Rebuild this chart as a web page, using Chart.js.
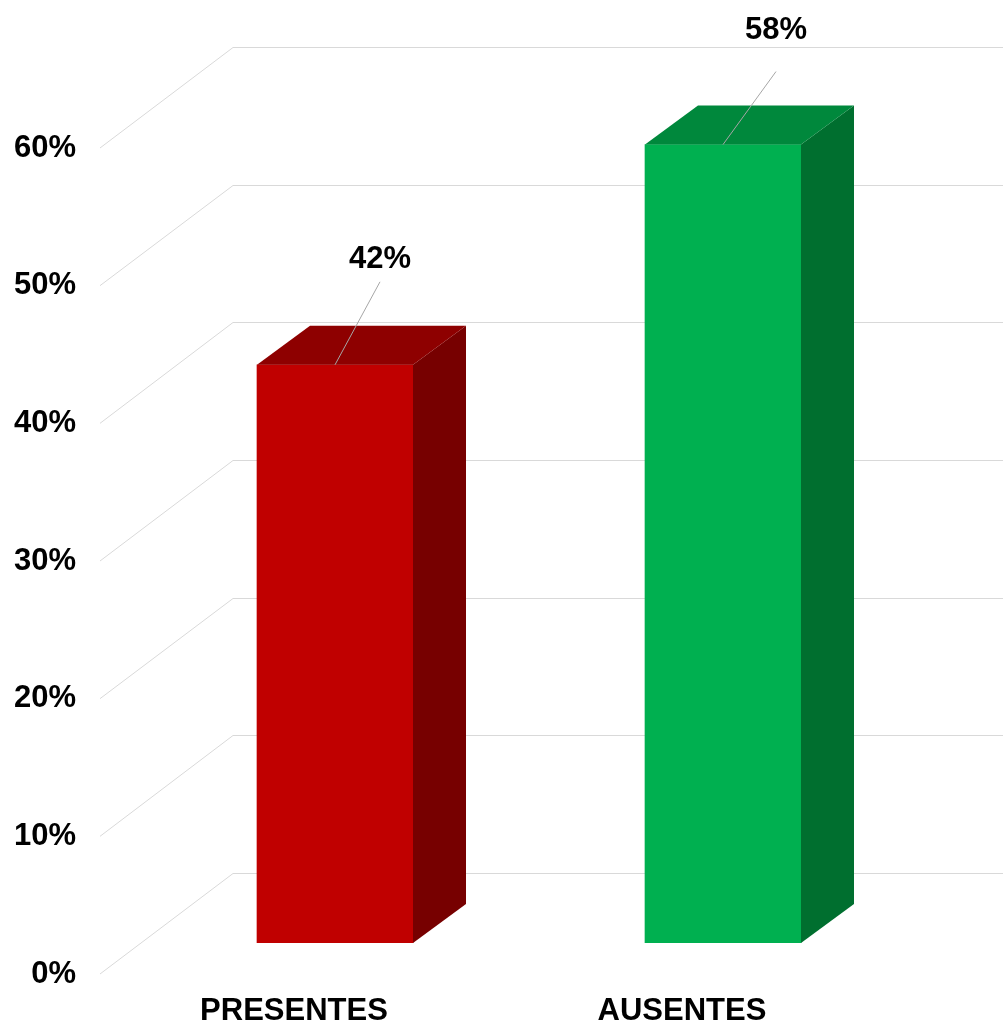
<!DOCTYPE html>
<html>
<head>
<meta charset="utf-8">
<script src="https://cdn.jsdelivr.net/npm/chart.js@4.4.0/dist/chart.umd.min.js"></script>
<style>
  html, body { margin: 0; padding: 0; background: #fff; }
  #wrap { width: 1003px; height: 1023px; }
</style>
</head>
<body>
<div id="wrap"><canvas id="chart" width="1003" height="1023"></canvas></div>
<script>
// data
const categories = ['PRESENTES', 'AUSENTES'];
const values = [0.42, 0.58];
const valueLabels = ['42%', '58%'];
const tickValues = [0, 0.1, 0.2, 0.3, 0.4, 0.5, 0.6];

const frontColours = ['#C00000', '#00B050'];
const topColours = ['#8E0000', '#00883C'];
const sideColours = ['#770000', '#006F2F'];

const FONT = "'Liberation Sans', Arial, sans-serif";

// depth of the 3D look, relative to the bar front plane
const DEPTH = { barDx: 53, barDy: -39, backDx: 92, backDy: -70, frontDx: -41, frontDy: 31 };

// back wall grid and the diagonal floor lines
const wallPlugin = {
  id: 'wall',
  beforeDatasetsDraw(chart) {
    const { ctx, chartArea, scales } = chart;
    ctx.save();
    ctx.strokeStyle = '#d9d9d9';
    ctx.lineWidth = 1;
    tickValues.forEach((v) => {
      const y = scales.y.getPixelForValue(v);
      const bx = chartArea.left + DEPTH.backDx;
      const by = Math.round(y + DEPTH.backDy) + 0.5;
      ctx.beginPath();
      ctx.moveTo(chartArea.left + DEPTH.frontDx, y + DEPTH.frontDy);
      ctx.lineTo(bx, by);
      ctx.lineTo(chart.width, by);
      ctx.stroke();
    });
    ctx.restore();
  },
};

// top and side faces of each bar, then the value labels with leader lines
const boxPlugin = {
  id: 'box3d',
  afterDatasetsDraw(chart, args, opts) {
    const { ctx } = chart;
    const meta = chart.getDatasetMeta(0);
    ctx.save();
    meta.data.forEach((bar, i) => {
      const half = bar.width / 2;
      const l = bar.x - half;
      const r = bar.x + half;
      const t = bar.y;
      const b = bar.base;
      const dx = DEPTH.barDx;
      const dy = DEPTH.barDy;
      ctx.fillStyle = sideColours[i];
      ctx.beginPath();
      ctx.moveTo(r, t);
      ctx.lineTo(r + dx, t + dy);
      ctx.lineTo(r + dx, b + dy);
      ctx.lineTo(r, b);
      ctx.closePath();
      ctx.fill();
      ctx.fillStyle = topColours[i];
      ctx.beginPath();
      ctx.moveTo(l, t);
      ctx.lineTo(l + dx, t + dy);
      ctx.lineTo(r + dx, t + dy);
      ctx.lineTo(r, t);
      ctx.closePath();
      ctx.fill();
    });
    meta.data.forEach((bar, i) => {
      const o = opts.offsets[i];
      ctx.strokeStyle = '#a6a6a6';
      ctx.lineWidth = 1;
      ctx.beginPath();
      ctx.moveTo(bar.x, bar.y);
      ctx.lineTo(bar.x + o.lineDx, bar.y + o.lineDy);
      ctx.stroke();
      ctx.fillStyle = '#000';
      ctx.font = 'bold 31px ' + FONT;
      ctx.textAlign = 'center';
      ctx.textBaseline = 'middle';
      ctx.fillText(valueLabels[i], bar.x + o.textDx, bar.y + o.textDy);
    });
    ctx.restore();
  },
};

new Chart(document.getElementById('chart'), {
  type: 'bar',
  data: {
    labels: categories,
    datasets: [{
      data: values,
      backgroundColor: frontColours,
      borderWidth: 0,
      barThickness: 156,
    }],
  },
  options: {
    responsive: false,
    animation: false,
    layout: { padding: { top: 117, right: 86, left: 0, bottom: 0 } },
    plugins: {
      legend: { display: false },
      tooltip: { enabled: false },
      box3d: {
        offsets: [
          { lineDx: 45, lineDy: -83, textDx: 45, textDy: -105 },
          { lineDx: 53, lineDy: -73, textDx: 53, textDy: -114 },
        ],
      },
    },
    scales: {
      x: {
        grid: { display: false, drawTicks: false },
        border: { display: false },
        afterFit: (s) => { s.height = 80; s.paddingLeft = 0; s.paddingRight = 0; },
        ticks: {
          color: '#000',
          font: { family: FONT, size: 31, weight: 'bold' },
          padding: 50,
          labelOffset: DEPTH.frontDx,
        },
      },
      y: {
        min: 0,
        max: 0.6,
        grid: { display: false, drawTicks: false },
        border: { display: false },
        afterFit: (s) => { s.width = 141; s.paddingTop = 0; s.paddingBottom = 0; },
        ticks: {
          stepSize: 0.1,
          color: '#000',
          font: { family: FONT, size: 31, weight: 'bold' },
          padding: 65,
          labelOffset: DEPTH.frontDy,
          callback: (v) => Math.round(v * 100) + '%',
        },
      },
    },
  },
  plugins: [wallPlugin, boxPlugin],
});
</script>
</body>
</html>
